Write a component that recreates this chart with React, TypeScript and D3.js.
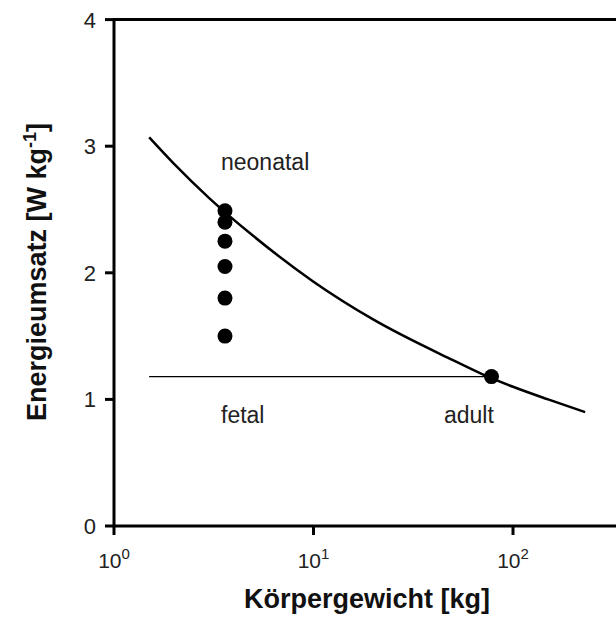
import React from "react";
import * as d3 from "d3";

const curveWeights = [1.5, 2, 3, 5, 10, 20, 50, 70, 100, 150, 230];
const curveRates = [3.07, 2.86, 2.59, 2.29, 1.93, 1.63, 1.31, 1.2, 1.1, 1.0, 0.9];
const neonatalWeight = 3.6;
const neonatalRates = [2.49, 2.4, 2.25, 2.05, 1.8, 1.5];
const adultWeight = 78;
const adultRate = 1.18;
const fetalLineStart = 1.5;
const yTicks = [0, 1, 2, 3, 4];
const xTickExps = [0, 1, 2];

export default function App() {
  const W = 616, H = 623;
  const left = 114, top = 19.6, bottom = 526;
  const x = d3.scaleLog().domain([1, Math.pow(10, 2.55)]).range([left, left + 2.55 * 199.5]);
  const y = d3.scaleLinear().domain([0, 4]).range([bottom, top]);
  const line = d3.line<number>()
    .x((_, i) => x(curveWeights[i]))
    .y((d) => y(d))
    .curve(d3.curveMonotoneX);
  const font = "'Liberation Sans', Arial, sans-serif";
  const right = x.range()[1];
  return (
    <svg width={W} height={H} style={{ position: "absolute", left: 0, top: 0 }} fontFamily={font}>
      <rect width={W} height={H} fill="#fff" />
      <path d={line(curveRates) || ""} fill="none" stroke="#000" strokeWidth={2.5} />
      <line x1={x(fetalLineStart)} x2={x(adultWeight)} y1={y(adultRate)} y2={y(adultRate)} stroke="#000" strokeWidth={1.2} />
      {neonatalRates.map((v, i) => (
        <circle key={i} cx={x(neonatalWeight)} cy={y(v)} r={7.5} fill="#000" />
      ))}
      <circle cx={x(adultWeight)} cy={y(adultRate)} r={7.5} fill="#000" />
      <path d={`M${right},${top}H${left}V${bottom}H${right}`} fill="none" stroke="#000" strokeWidth={3} />
      {yTicks.map((t) => (
        <g key={t}>
          <line x1={left - 9} x2={left} y1={y(t)} y2={y(t)} stroke="#000" strokeWidth={3} />
          <text x={left - 18} y={y(t)} dy="0.36em" textAnchor="end" fontSize={22} fill="#222">{t}</text>
        </g>
      ))}
      {xTickExps.map((e) => (
        <g key={e}>
          <line x1={x(Math.pow(10, e))} x2={x(Math.pow(10, e))} y1={bottom} y2={bottom + 9} stroke="#000" strokeWidth={3} />
          <text x={x(Math.pow(10, e))} y={bottom + 42} textAnchor="middle" fontSize={21} fill="#222">
            10<tspan dy={-9} fontSize={15}>{e}</tspan>
          </text>
        </g>
      ))}
      <text x={367} y={608} textAnchor="middle" fontSize={27} fontWeight="bold" fill="#111">Körpergewicht [kg]</text>
      <text transform={`translate(46,272) rotate(-90)`} textAnchor="middle" fontSize={27} fontWeight="bold" fill="#111">
        Energieumsatz [W kg<tspan dy={-10} fontSize={18}>-1</tspan><tspan dy={10}>]</tspan>
      </text>
      <text x={221} y={170} fontSize={23} fill="#222">neonatal</text>
      <text x={221} y={423} fontSize={23} fill="#222">fetal</text>
      <text x={444} y={423} fontSize={23} fill="#222">adult</text>
    </svg>
  );
}
